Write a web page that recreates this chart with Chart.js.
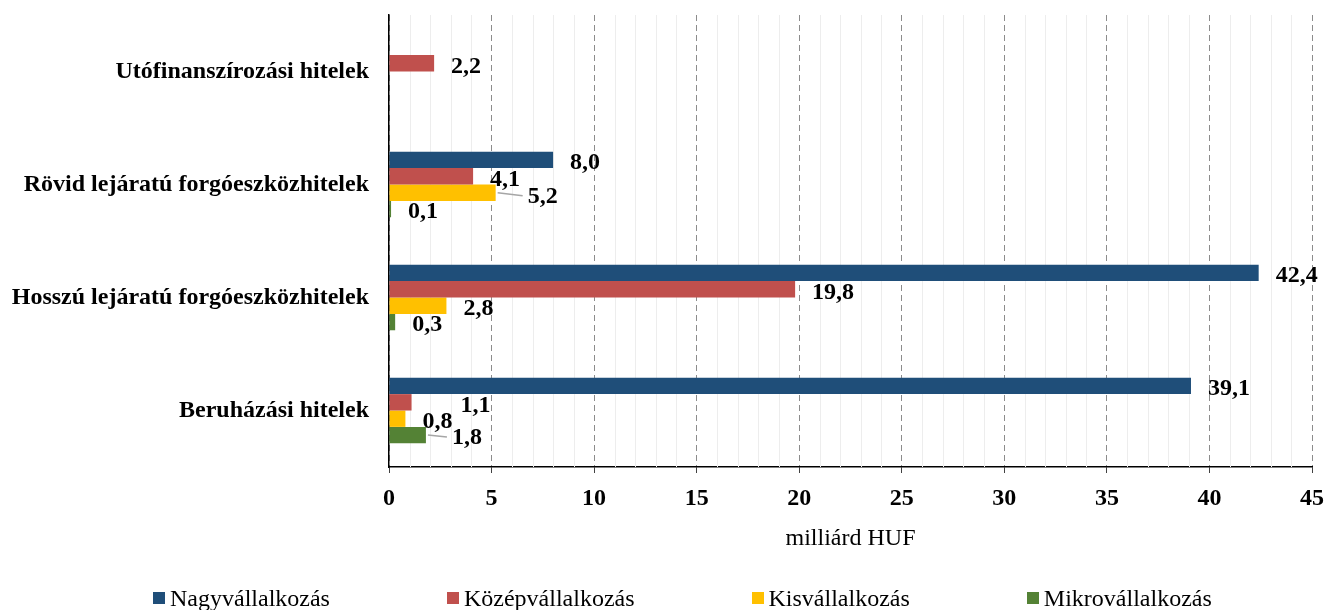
<!DOCTYPE html>
<html>
<head>
<meta charset="utf-8">
<script src="https://cdn.jsdelivr.net/npm/chart.js@4.4.1/dist/chart.umd.min.js"></script>
<style>
  html, body { margin: 0; padding: 0; background: #fff; }
  #wrap { position: relative; width: 1326px; height: 610px; }
  #legend { position: absolute; left: 153px; top: 584px; display: flex; gap: 117px;
    font-family: "Liberation Serif", "Times New Roman", serif; font-size: 24px; color: #000; line-height: 28px; white-space: nowrap; }
  .item { display: flex; align-items: center; }
  .sw { width: 12px; height: 12px; margin-right: 5px; display: inline-block; }
</style>
</head>
<body>
<div id="wrap">
  <canvas id="c" width="1326" height="610"></canvas>
  <div id="legend"></div>
</div>
<script>
const categories = ['Utófinanszírozási hitelek', 'Rövid lejáratú forgóeszközhitelek', 'Hosszú lejáratú forgóeszközhitelek', 'Beruházási hitelek'];
const seriesNames = ['Nagyvállalkozás', 'Középvállalkozás', 'Kisvállalkozás', 'Mikrovállalkozás'];
const nagy = [null, 8.0, 42.4, 39.1];
const kozep = [2.2, 4.1, 19.8, 1.1];
const kis = [null, 5.2, 2.8, 0.8];
const mikro = [null, 0.1, 0.3, 1.8];
const xTicks = [0, 5, 10, 15, 20, 25, 30, 35, 40, 45];
const axisTitle = 'milliárd HUF';

const colors = ['#1F4E79', '#C0504D', '#FFC000', '#548235'];
const serif = '"Liberation Serif", "Times New Roman", serif';
const allSeries = [nagy, kozep, kis, mikro];

// label adjustments: key "dataset-index" -> {dx, dy, leader}
const labelAdjust = {
  '2-1': { dx: 15, dy: 1, leader: true },
  '1-3': { dx: 32, dy: 0, leader: false },
  '3-3': { dx: 9, dy: 0, leader: true }
};

const minorGrid = {
  id: 'minorGrid',
  beforeDatasetsDraw(chart) {
    const { ctx, chartArea, scales } = chart;
    const xs = scales.x;
    ctx.save();
    ctx.strokeStyle = '#ededed';
    ctx.lineWidth = 1;
    for (let v = xs.min; v <= xs.max; v++) {
      if (v % 5 === 0) continue;
      const px = Math.round(xs.getPixelForValue(v)) + 0.5;
      ctx.beginPath();
      ctx.moveTo(px, chartArea.top);
      ctx.lineTo(px, chartArea.bottom);
      ctx.stroke();
    }
    ctx.restore();
  }
};

const dataLabels = {
  id: 'dataLabels',
  afterDatasetsDraw(chart) {
    const { ctx } = chart;
    ctx.save();
    ctx.font = 'bold 24px ' + serif;
    ctx.fillStyle = '#000';
    ctx.textBaseline = 'middle';
    ctx.textAlign = 'left';
    chart.data.datasets.forEach((ds, di) => {
      const meta = chart.getDatasetMeta(di);
      meta.data.forEach((el, i) => {
        const v = ds.data[i];
        if (v === null || v === undefined) return;
        const adj = labelAdjust[di + '-' + i] || { dx: 0, dy: 0 };
        const tx = el.x + 17 + adj.dx;
        const ty = el.y + 3 + adj.dy;
        if (adj.leader) {
          ctx.save();
          ctx.strokeStyle = '#a6a6a6';
          ctx.lineWidth = 1.5;
          ctx.beginPath();
          ctx.moveTo(el.x + 2, el.y);
          ctx.lineTo(tx - 5, ty - 1);
          ctx.stroke();
          ctx.restore();
        }
        ctx.fillText(v.toFixed(1).replace('.', ','), tx, ty);
      });
    });
    ctx.restore();
  }
};

new Chart(document.getElementById('c'), {
  type: 'bar',
  data: {
    labels: categories,
    datasets: allSeries.map((d, i) => ({
      label: seriesNames[i],
      data: d,
      backgroundColor: colors[i],
      borderWidth: 0,
      categoryPercentage: 0.58,
      barPercentage: 1.0
    }))
  },
  options: {
    indexAxis: 'y',
    responsive: false,
    devicePixelRatio: 1,
    animation: false,
    layout: { padding: { top: 15, right: 14, left: 0, bottom: 0 } },
    plugins: { legend: { display: false }, tooltip: { enabled: false } },
    scales: {
      x: {
        min: 0, max: 45,
        afterBuildTicks(s) { s.ticks = xTicks.map(v => ({ value: v })); },
        ticks: { font: { family: serif, size: 24, weight: 'bold' }, color: '#000', padding: 11, maxRotation: 0, autoSkip: false },
        grid: { color: '#8c8c8c', lineWidth: 1, tickColor: '#000', tickLength: 6, tickBorderDash: [1, 0] },
        border: { color: '#000', width: 1.5, dash: [6, 4] },
        title: { display: true, text: axisTitle, font: { family: serif, size: 24 }, color: '#000', padding: { top: 4, bottom: 57 } },
        afterFit(s) { s.height = 143; s.paddingLeft = 0; s.paddingRight = 0; }
      },
      y: {
        ticks: { font: { family: serif, size: 24, weight: 'bold' }, color: '#000', padding: 20 },
        grid: { display: false, drawTicks: false },
        border: { color: '#000', width: 1.5 },
        afterFit(s) { s.width = 389; s.paddingTop = 0; s.paddingBottom = 0; }
      }
    }
  },
  plugins: [minorGrid, dataLabels]
});

const legend = document.getElementById('legend');
seriesNames.forEach((n, i) => {
  const it = document.createElement('span');
  it.className = 'item';
  const sw = document.createElement('span');
  sw.className = 'sw';
  sw.style.background = colors[i];
  const t = document.createElement('span');
  t.textContent = n;
  it.appendChild(sw); it.appendChild(t);
  legend.appendChild(it);
});
</script>
</body>
</html>
